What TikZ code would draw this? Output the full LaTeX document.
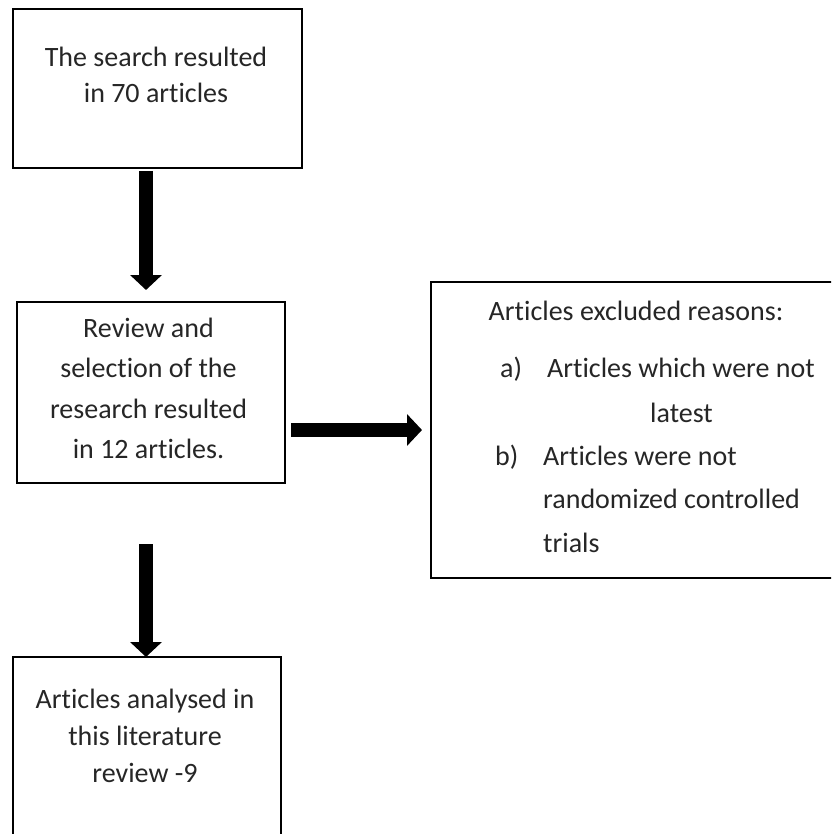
\documentclass[tikz,border=0pt]{standalone}
\usepackage{fontspec}
\setmainfont{Carlito}[Ligatures={NoCommon}]
\usetikzlibrary{arrows.meta,calc}
\definecolor{txtc}{RGB}{38,38,38}
\begin{document}
\begin{tikzpicture}[x=1pt,y=-1pt,
  box/.style={draw=black, line width=1.5pt, anchor=north west, inner sep=0pt, outer sep=0pt},
  ln/.style={font=\fontsize{28}{34}\selectfont, text=txtc, inner sep=0pt, anchor=base},
  lnw/.style={ln, anchor=base west},
  bigarrow/.style={line width=14pt, draw=black, -{Triangle[width=31pt,length=15pt]}}]
\path[use as bounding box, clip] (0,0) rectangle (831,834);
\fill[white] (0,0) rectangle (831,834);
% boxes
\node[box, minimum width=289pt, minimum height=159pt] (b1) at (13,9) {};
\node[box, minimum width=268pt, minimum height=181pt] (b2) at (17,302) {};
\node[box, minimum width=420pt, minimum height=296pt] (b3) at (431,282) {};
\node[box, minimum width=268pt, minimum height=200pt] (b4) at (13,657) {};
% box 1 text
\node[ln] (t11) at (156,67) {The search resulted};
\node[ln] (t12) at (156,103) {in 70 articles};
% box 2 text
\node[ln] (t21) at (148.5,337) {Review and};
\node[ln] (t22) at (148.5,377) {selection of the};
\node[ln] (t23) at (148.5,418) {research resulted};
\node[ln] (t24) at (148.5,458) {in 12 articles.};
% box 3 text
\node[ln] (t31) at (636,320) {Articles excluded reasons:};
\node[lnw] (t3a) at (500,377) {a)};
\node[lnw] (t32) at (547,377) {Articles which were not};
\node[ln] (t33) at (681.5,422) {latest};
\node[lnw] (t3b) at (495,465) {b)};
\node[lnw] (t34) at (543,465) {Articles were not};
\node[lnw] (t35) at (543,508) {randomized controlled};
\node[lnw] (t36) at (543,552) {trials};
% box 4 text
\node[ln] (t41) at (145,708) {Articles analysed in};
\node[ln] (t42) at (145,745) {this literature};
\node[ln] (t43) at (145,782) {review -9};
% arrows
\coordinate (ax) at (146,0);
\draw[bigarrow, shorten <=3pt, shorten >=12pt] (b1.south -| ax) -- (b2.north -| ax);
\draw[bigarrow, shorten <=6pt, shorten >=9pt] (b2.east |- b3.west) -- (b3.west);
\draw[bigarrow, shorten <=61pt] (b2.south -| ax) -- (b4.north -| ax);
\end{tikzpicture}
\end{document}
